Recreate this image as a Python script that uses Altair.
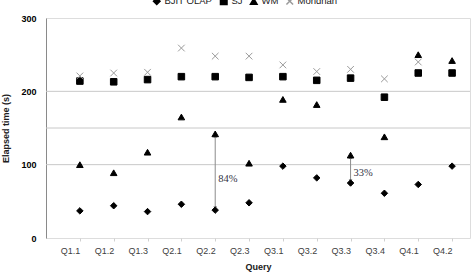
import altair as alt
import pandas as pd

queries = ["Q1.1", "Q1.2", "Q1.3", "Q2.1", "Q2.2", "Q2.3",
           "Q3.1", "Q3.2", "Q3.3", "Q3.4", "Q4.1", "Q4.2"]
series_names = ["BJIT OLAP", "SJ", "WM", "Mondrian"]
bjit_olap = [37, 44, 36, 46, 38, 48, 98, 82, 75, 61, 73, 98]
sj = [214, 213, 216, 220, 220, 219, 220, 215, 218, 192, 225, 225]
wm = [100, 89, 117, 165, 142, 102, 189, 182, 113, 138, 250, 242]
mondrian = [221, 225, 226, 259, 248, 248, 236, 227, 230, 217, 240, None]
grid_values = [100, 150, 200]

# gap annotations: query, upper tip, lower tip, label, label height
gap_query = ["Q2.2", "Q3.3"]
gap_top = [139, 110]
gap_bottom = [41, 78]
gap_label = ["84%", "33%"]
gap_label_y = [80, 89]

rows = []
for name, vals in zip(series_names, [bjit_olap, sj, wm, mondrian]):
    for q, v in zip(queries, vals):
        if v is not None:
            rows.append({"query": q, "series": name, "value": v})
df = pd.DataFrame(rows)

gaps = pd.DataFrame({"query": gap_query, "top": gap_top, "bottom": gap_bottom,
                     "label": gap_label, "ly": gap_label_y})

FONT = "Liberation Sans"

x_scale = alt.Scale(domain=queries, type="point", padding=0.765, align=0.654)
y_scale = alt.Scale(domain=[0, 300])

x_enc = alt.X("query:N", scale=x_scale, sort=queries,
              axis=alt.Axis(title="Query", labelAngle=0, domain=False,
                            tickColor="#d0d0d0", tickSize=3, labelPadding=9,
                            labelFont=FONT, labelFontSize=9, labelColor="#404040",
                            titleFont=FONT, titleFontSize=9, titleFontWeight="bold",
                            titleColor="#202020", titlePadding=7))

legend = alt.Legend(title=None, orient="none", direction="horizontal",
                    legendX=106, legendY=-22, columnPadding=4,
                    labelFont=FONT, labelFontSize=9.5,
                    labelColor="#202020", labelOffset=3)

grid = alt.Chart(pd.DataFrame({"g": grid_values})).mark_rule(
    color="#c8c8c8", strokeWidth=1
).encode(y=alt.Y("g:Q", scale=y_scale))

points = alt.Chart(df).mark_point(strokeWidth=1, opacity=1).encode(
    x=x_enc,
    y=alt.Y("value:Q", scale=y_scale,
            axis=alt.Axis(title="Elapsed time (s)", values=[0, 50, 100, 150, 200, 250, 300],
                          grid=False, ticks=False, domainColor="#8a8a8a",
                          labelFont=FONT, labelFontSize=9, labelFontWeight="bold",
                          labelColor="#000000", labelPadding=10,
                          titleFont=FONT, titleFontSize=9, titleFontWeight="bold",
                          titleColor="#202020", titlePadding=10)),
    shape=alt.Shape("series:N", sort=series_names,
                    scale=alt.Scale(domain=series_names,
                                    range=["diamond", "square", "triangle-up",
                                           "M-1,-1L1,1M-1,1L1,-1"]),
                    legend=legend),
    fill=alt.Fill("series:N", sort=series_names,
                  scale=alt.Scale(domain=series_names,
                                  range=["#000000", "#000000", "#000000", "transparent"]),
                  legend=legend),
    stroke=alt.Stroke("series:N", sort=series_names,
                      scale=alt.Scale(domain=series_names,
                                      range=["#000000", "#000000", "#000000", "#9a9a9a"]),
                      legend=legend),
    size=alt.Size("series:N", sort=series_names,
                  scale=alt.Scale(domain=series_names, range=[42, 44, 80, 30]),
                  legend=legend),
)

gap_rule = alt.Chart(gaps).mark_rule(color="#8c8c8c", strokeWidth=1).encode(
    x=alt.X("query:N", scale=x_scale, sort=queries),
    y=alt.Y("top:Q", scale=y_scale),
    y2="bottom:Q",
)
gap_head_top = alt.Chart(gaps).mark_point(
    shape="triangle-up", filled=True, color="#8c8c8c", size=14, opacity=1
).encode(x=alt.X("query:N", scale=x_scale, sort=queries),
         y=alt.Y("top:Q", scale=y_scale))
gap_head_bottom = alt.Chart(gaps).mark_point(
    shape="triangle-down", filled=True, color="#8c8c8c", size=14, opacity=1
).encode(x=alt.X("query:N", scale=x_scale, sort=queries),
         y=alt.Y("bottom:Q", scale=y_scale))
gap_text = alt.Chart(gaps).mark_text(
    align="left", baseline="middle", dx=3, font="Liberation Serif",
    fontSize=10.5, color="#333344"
).encode(x=alt.X("query:N", scale=x_scale, sort=queries),
         y=alt.Y("ly:Q", scale=y_scale), text="label:N")

chart = alt.layer(grid, gap_rule, gap_head_top, gap_head_bottom, gap_text, points).properties(
    width=424, height=220,
    autosize=alt.AutoSizeParams(type="none"),
    padding={"left": 46, "top": 18, "right": 3, "bottom": 39},
).configure_view(stroke=None).configure(background="#ffffff")

chart.save("out.html", embed_options={"renderer": "svg", "actions": False})
